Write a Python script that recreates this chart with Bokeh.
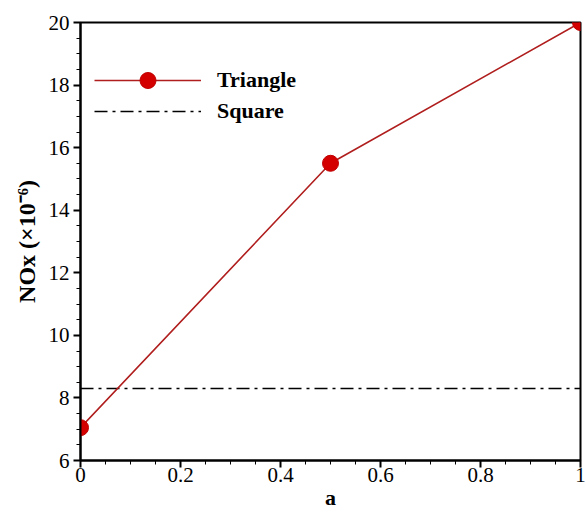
from bokeh.plotting import figure
from bokeh.models import Range1d, Legend, LegendItem, FixedTicker
from bokeh.embed import file_html
from bokeh.resources import INLINE

a_values = [0.0, 0.5, 1.0]
triangle_nox = [7.05, 15.5, 20.0]
square_nox = 8.3
x_major = [0, 0.2, 0.4, 0.6, 0.8, 1.0]
y_major = [6, 8, 10, 12, 14, 16, 18, 20]

FONT = "Liberation Serif"

p = figure(width=586, height=512, output_backend="svg", toolbar_location=None,
           x_range=Range1d(0, 1), y_range=Range1d(6, 20),
           min_border_left=80, min_border_right=6, min_border_top=22, min_border_bottom=51)
p.grid.visible = False
p.outline_line_color = "black"
p.outline_line_width = 2
p.background_fill_color = "white"
p.border_fill_color = "white"

for ax in (p.xaxis[0], p.yaxis[0]):
    ax.axis_line_width = 2
    ax.axis_line_color = "black"
    ax.major_tick_line_width = 2
    ax.major_tick_out = 7
    ax.major_tick_in = 0
    ax.minor_tick_out = 4
    ax.minor_tick_in = 0
    ax.minor_tick_line_width = 1
    ax.major_label_text_font = FONT
    ax.major_label_text_font_size = "21px"
    ax.major_label_text_color = "black"
    ax.axis_label_text_font = FONT
    ax.axis_label_text_font_style = "bold"
    ax.axis_label_text_font_size = "24px"
    ax.axis_label_text_color = "black"

p.xaxis.ticker = FixedTicker(ticks=x_major, minor_ticks=[i * 0.05 for i in range(21)])
p.yaxis.ticker = FixedTicker(ticks=y_major, minor_ticks=[6 + i * 0.5 for i in range(29)])
p.xaxis.major_label_overrides = {0: "0", 1: "1", 1.0: "1"}
p.xaxis.axis_label = "a"
p.yaxis.axis_label = "NOx (×10⁻⁶)"
p.xaxis.major_label_standoff = 0
p.yaxis.major_label_standoff = 4
p.xaxis.axis_label_standoff = 0
p.xaxis.axis_label_text_font_size = "22px"
p.yaxis.axis_label_standoff = 6

sq = p.line([0, 1], [square_nox, square_nox], line_color="black", line_width=1.5,
            line_dash="13 5 3 5")
tl = p.line(a_values, triangle_nox, line_color="#b01e1e", line_width=1.6)
tm = p.scatter(a_values, triangle_nox, size=16, fill_color="#d40000",
               line_color="#c00000")

common = dict(glyph_width=107, spacing=0, label_text_font=FONT,
              label_text_font_style="bold", label_text_font_size="22px",
              label_text_color="black",
              label_standoff=16, border_line_color=None, background_fill_alpha=0)
legend1 = Legend(items=[LegendItem(label="Triangle", renderers=[tl, tm])],
                 location=(14, 360), glyph_height=40, **common)
legend2 = Legend(items=[LegendItem(label="Square", renderers=[sq])],
                 location=(14, 336), glyph_height=20, **common)
p.add_layout(legend1)
p.add_layout(legend2)

open("out.html", "w").write(file_html(p, INLINE))
